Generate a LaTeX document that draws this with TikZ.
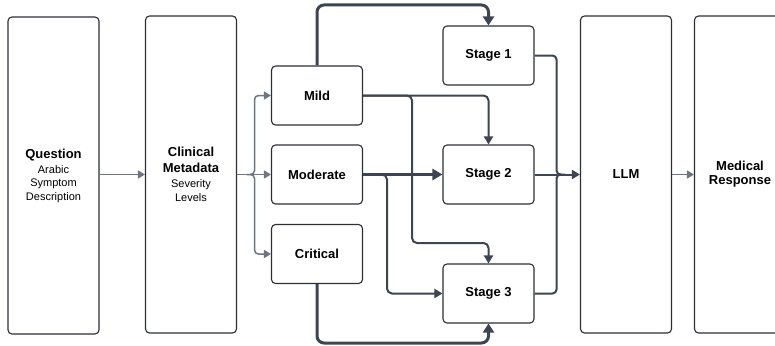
\documentclass[tikz,border=0pt]{standalone}
\usepackage{fontspec}
\setmainfont{Liberation Sans}
\usetikzlibrary{arrows.meta}
\definecolor{boxline}{HTML}{2B2F36}
\definecolor{conn}{HTML}{3D4452}
\definecolor{gconn}{HTML}{6E7581}
\tikzset{
  box/.style={draw=boxline, line width=1.1pt, rounded corners=4pt, fill=white, align=center, inner sep=0pt, font=\fontsize{11}{13.5}\selectfont},
  tall/.style={box, minimum width=91pt, minimum height=317pt},
  small/.style={box, minimum width=91pt, minimum height=59pt},
  conn/.style={draw=conn, line width=2pt, rounded corners=5pt, -{Triangle[length=8pt,width=9pt]}},
  connx/.style={draw=conn, line width=2pt, rounded corners=5pt},
  thickconn/.style={draw=conn, line width=3pt, rounded corners=7pt, -{Triangle[length=9pt,width=11pt]}},
  midconn/.style={draw=conn, line width=2.6pt, -{Triangle[length=10pt,width=11pt]}},
  gconn/.style={draw=gconn, line width=1.5pt, rounded corners=4pt, -{Triangle[length=7pt,width=8pt]}},
}
\newcommand{\hdtext}[1]{{\fontsize{13}{16}\selectfont\bfseries #1}}
\newcommand{\subtext}[1]{{\fontsize{11}{13.5}\selectfont #1}}
\begin{document}
\begin{tikzpicture}[x=1pt,y=-1pt]
\clip (0,0) rectangle (775,345);
\fill[white] (0,0) rectangle (775,345);
% main boxes
\node[tall] (q) at (53.5,175.5) {\hdtext{Question}\\[1.5pt]\subtext{Arabic}\\\subtext{Symptom}\\\subtext{Description}};
\node[tall] (c) at (191,174.5) {\hdtext{Clinical}\\[2.5pt]\hdtext{Metadata}\\[2pt]\subtext{Severity}\\[0.5pt]\subtext{Levels}};
\node[small] (mild) at (317,95.5) {\hdtext{Mild}};
\node[small] (mod) at (317,174.5) {\hdtext{Moderate}};
\node[small] (crit) at (317,254) {\hdtext{Critical}};
\node[small] (s1) at (488.5,55.5) {\hdtext{Stage 1}};
\node[small] (s2) at (488.5,174.5) {\hdtext{Stage 2}};
\node[small] (s3) at (488.5,293.5) {\hdtext{Stage 3}};
\node[tall] (llm) at (626,174.5) {\hdtext{LLM}};
\node[tall] (med) at (740,174.5) {\hdtext{Medical}\\[0.5pt]\hdtext{Response}};
% question -> clinical
\draw[gconn] (q.east |- 0,174.5) -- (c.west |- 0,174.5);
% bracket to severities
\coordinate (bl) at (251,174.5);
\draw[draw=gconn, line width=1.5pt] (c.east) -- (bl);
\draw[gconn] (bl) -| (254.5,150) |- (mild.west);
\draw[gconn] (bl) -| (254.5,200) |- (crit.west);
\draw[gconn] (bl) -- (mod.west);
% severity -> stages
\draw[thickconn] (mild.north) |- (400,5) -| (s1.north);
\draw[thickconn] (crit.south) |- (400,343) -| (s3.south);
\draw[conn] (mild.east) -| (s2.north);
\draw[conn] (mild.east) -| (412,243) -| (s3.north);
\draw[midconn] (mod.east) -- (s2.west);
\draw[conn] (mod.east) -| (387,293.5) -- (s3.west);
% stages -> LLM
\coordinate (mr) at (560,174.5);
\draw[connx, rounded corners=4pt] (s1.east) -| (556.5,150) |- (mr);
\draw[connx, rounded corners=4pt] (s3.east) -| (556.5,200) |- (mr);
\draw[conn] (s2.east) -- (llm.west);
% LLM -> response
\draw[gconn] (llm) -- (med);
\end{tikzpicture}
\end{document}
